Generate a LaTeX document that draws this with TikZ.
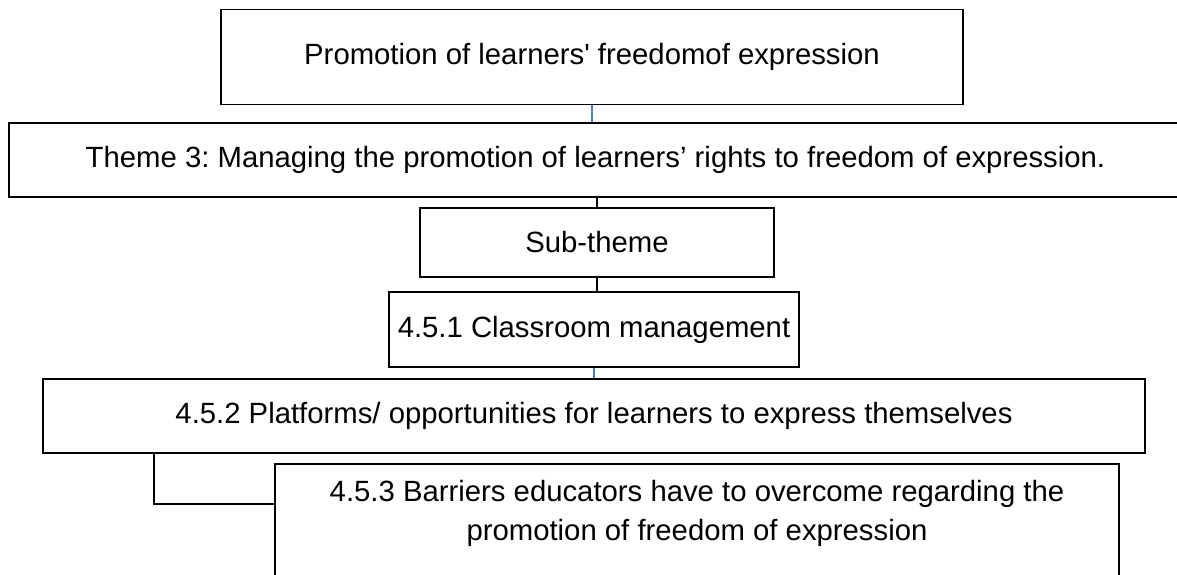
\documentclass[tikz,border=0pt]{standalone}
\usepackage{fontspec}
\setmainfont{Liberation Sans}
\frenchspacing

\definecolor{linkblue}{RGB}{74,126,187}

\tikzset{
	themebox/.style={draw, line width=1.8pt, inner sep=0pt, font=\fontsize{29.3}{39}\selectfont},
	bluelink/.style={draw=linkblue, line width=1.4pt},
	blacklink/.style={draw, line width=1.8pt}
}

\begin{document}
\begin{tikzpicture}[x=1pt,y=-1pt]
	\useasboundingbox (0,0) rectangle (1177,574);
	% theme and sub-theme boxes
	\node[themebox, minimum width=742pt, minimum height=95pt] (promo) at (592,57) {Promotion of learners\textquotesingle{} freedomof expression};
	\node[themebox, minimum width=1173pt, minimum height=74pt] (theme) at (595.5,160) {Theme 3: Managing the promotion of learners’ rights to freedom of expression.};
	\node[themebox, minimum width=354pt, minimum height=69pt] (sub) at (597,242.5) {Sub-theme};
	\node[themebox, minimum width=410pt, minimum height=75pt] (class) at (594,329.5) {4.5.1 Classroom management};
	\node[themebox, minimum width=1102pt, minimum height=74pt] (platf) at (594,416) {4.5.2 Platforms/ opportunities for learners to express themselves};
	\node[themebox, anchor=north, minimum width=844pt, align=center, inner ysep=16pt, text depth=120pt] (barr) at (697,463)
		{4.5.3 Barriers educators have to overcome regarding the\\promotion of freedom of expression};
	% links
	\draw[bluelink] (promo.south) -- (promo.south |- theme.north);
	\draw[blacklink] (theme.south -| sub.north) -- (sub.north);
	\draw[blacklink] (sub.south) -- (sub.south |- class.north);
	\draw[bluelink] (class.south) -- (class.south |- platf.north);
	\coordinate (bend) at ([yshift=-41pt]barr.north west);
	\draw[blacklink] ([xshift=112pt]platf.south west) |- (bend);
\end{tikzpicture}
\end{document}
